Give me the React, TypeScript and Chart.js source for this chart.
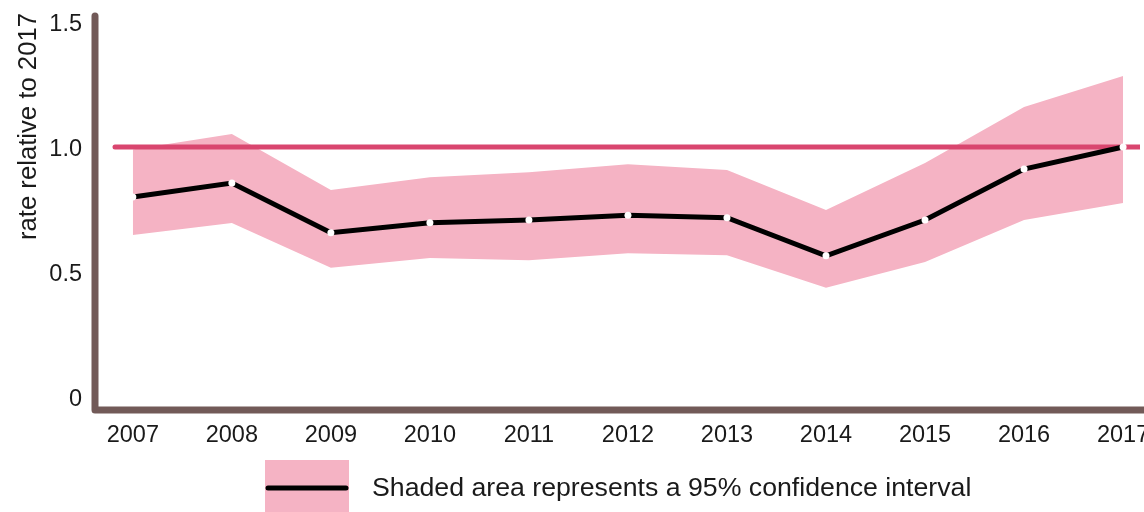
import React, { useEffect, useRef } from "react";
import { Chart, registerables } from "chart.js";

Chart.register(...registerables);

// ---- data ----
const years = [2007, 2008, 2009, 2010, 2011, 2012, 2013, 2014, 2015, 2016, 2017];
const yearLabels = ["2007", "2008", "2009", "2010", "2011", "2012", "2013", "2014", "2015", "2016", "2017"];
const rateValues = [0.8, 0.856, 0.657, 0.697, 0.708, 0.727, 0.717, 0.565, 0.708, 0.912, 1.0];
const upperCI = [0.99, 1.052, 0.828, 0.879, 0.899, 0.931, 0.908, 0.748, 0.936, 1.16, 1.284];
const lowerCI = [0.648, 0.696, 0.517, 0.556, 0.547, 0.575, 0.567, 0.437, 0.54, 0.708, 0.776];
const referenceValue = 1.0;
const referenceSpan = [2006.82, 2017.2];
const yTicks = [0, 0.5, 1.0, 1.5];
const yTickLabels = ["0", "0.5", "1.0", "1.5"];
const yTitle = "rate relative to 2017";
const legendText = "Shaded area represents a 95% confidence interval";

const FONT = '"Liberation Sans", Arial, sans-serif';
const TEXT = "#1a1a1a";
const AXIS = "#725a58";
const BAND = "#f5b3c4";
const REF = "#d9466f";

export default function App() {
  const ref = useRef<HTMLCanvasElement | null>(null);

  useEffect(() => {
    const canvas = ref.current;
    if (!canvas) return;

    const decor = {
      id: "decor",
      afterDatasetsDraw(chart: any) {
        const { ctx, chartArea } = chart;
        ctx.save();
        ctx.strokeStyle = AXIS;
        ctx.lineWidth = 7;
        ctx.lineCap = "round";
        ctx.lineJoin = "round";
        ctx.beginPath();
        ctx.moveTo(chartArea.left, chartArea.top + 3);
        ctx.lineTo(chartArea.left, chartArea.bottom);
        ctx.lineTo(chartArea.right + 10, chartArea.bottom);
        ctx.stroke();
        ctx.restore();
      },
      afterDraw(chart: any) {
        const { ctx } = chart;
        ctx.save();
        ctx.fillStyle = BAND;
        ctx.fillRect(265, 460, 84, 52);
        ctx.strokeStyle = "#000";
        ctx.lineWidth = 5;
        ctx.lineCap = "round";
        ctx.beginPath();
        ctx.moveTo(268, 488);
        ctx.lineTo(346, 488);
        ctx.stroke();
        ctx.fillStyle = TEXT;
        ctx.font = `26.7px ${FONT}`;
        ctx.textBaseline = "middle";
        ctx.textAlign = "left";
        ctx.fillText(legendText, 372, 489);
        ctx.restore();
      },
    };

    const chart = new Chart(canvas, {
      type: "line",
      data: {
        datasets: [
          {
            label: "lower",
            data: years.map((x, i) => ({ x, y: lowerCI[i] })),
            borderWidth: 0,
            pointRadius: 0,
            fill: false,
            order: 3,
          },
          {
            label: "upper",
            data: years.map((x, i) => ({ x, y: upperCI[i] })),
            borderWidth: 0,
            pointRadius: 0,
            backgroundColor: BAND,
            fill: "-1",
            order: 2,
          },
          {
            label: "reference",
            data: referenceSpan.map((x) => ({ x, y: referenceValue })),
            borderColor: REF,
            borderWidth: 5,
            borderCapStyle: "round",
            pointRadius: 0,
            fill: false,
            order: 1,
          },
          {
            label: "rate",
            data: years.map((x, i) => ({ x, y: rateValues[i] })),
            borderColor: "#000",
            borderWidth: 5,
            pointRadius: 3.5,
            pointBackgroundColor: "#fff",
            pointBorderWidth: 0,
            fill: false,
            order: 0,
          },
        ] as any,
      },
      options: {
        animation: false,
        responsive: false,
        devicePixelRatio: 1,
        layout: { padding: { top: 13, left: 0, right: 0, bottom: 0 } },
        plugins: {
          legend: { display: false },
          tooltip: { enabled: false },
        },
        elements: { line: { tension: 0 } },
        scales: {
          x: {
            type: "linear",
            min: 2006.618,
            max: 2017.171,
            afterBuildTicks: (s: any) => {
              s.ticks = years.map((v) => ({ value: v }));
            },
            afterFit: (s: any) => {
              s.height = 102;
              s.paddingLeft = 0;
              s.paddingRight = 0;
            },
            ticks: {
              autoSkip: false,
              maxRotation: 0,
              padding: 11,
              color: TEXT,
              font: { family: FONT, size: 23.5 },
              callback: (v: any) => yearLabels[years.indexOf(Number(v))] ?? "",
            },
            grid: { display: false, drawTicks: false },
            border: { display: false },
          },
          y: {
            type: "linear",
            min: -0.052,
            max: 1.536,
            afterBuildTicks: (s: any) => {
              s.ticks = yTicks.map((v) => ({ value: v }));
            },
            afterFit: (s: any) => {
              s.width = 95;
              s.paddingTop = 0;
              s.paddingBottom = 0;
            },
            ticks: {
              padding: 13,
              labelOffset: 2.5,
              color: TEXT,
              font: { family: FONT, size: 23.5 },
              callback: (v: any) => yTickLabels[yTicks.indexOf(Number(v))] ?? "",
            },
            grid: { display: false, drawTicks: false },
            border: { display: false },
            title: {
              display: true,
              text: yTitle,
              align: "end",
              color: TEXT,
              font: { family: FONT, size: 25.7 },
              padding: { top: 13, bottom: 0 },
            },
          },
        },
      } as any,
      plugins: [decor],
    });

    return () => chart.destroy();
  }, []);

  return (
    <div style={{ position: "fixed", left: 0, top: 0, width: 1144, height: 512, background: "#fff" }}>
      <canvas ref={ref} width={1144} height={512} style={{ display: "block", width: 1144, height: 512 }} />
    </div>
  );
}
